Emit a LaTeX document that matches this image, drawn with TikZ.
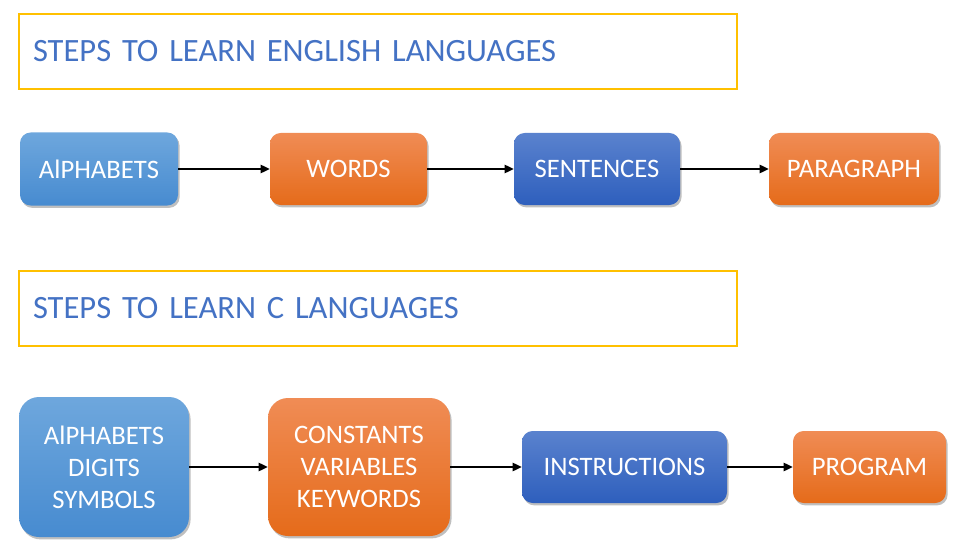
\documentclass[tikz,border=0pt]{standalone}
\usepackage{fontspec}
\setmainfont{Carlito}
\usepackage{xcolor}
\usetikzlibrary{positioning,shadows,arrows.meta}

\definecolor{lblueA}{HTML}{6EA7DD}
\definecolor{lblueB}{HTML}{478BD0}
\definecolor{dblueA}{HTML}{5A82CE}
\definecolor{dblueB}{HTML}{2E5FBD}
\definecolor{orangeA}{HTML}{F08C55}
\definecolor{orangeB}{HTML}{E56B1A}
\definecolor{titleblue}{HTML}{4472C4}
\definecolor{gold}{HTML}{FFC000}

\tikzset{
	stepbox/.style={rounded corners=8pt, text=white, align=center,
		font=\fontsize{20}{24}\selectfont, inner sep=0pt, outer sep=0pt,
		drop shadow={shadow xshift=1.2pt, shadow yshift=-1.8pt, opacity=0.25, fill=black}},
	lightblue/.style={stepbox, top color=lblueA, bottom color=lblueB},
	darkblue/.style={stepbox, top color=dblueA, bottom color=dblueB},
	orangebox/.style={stepbox, top color=orangeA, bottom color=orangeB},
	titlebox/.style={draw=gold, line width=1.3pt, text=titleblue, align=left,
		font=\fontsize{24.4}{28}\selectfont, inner xsep=10.5pt, outer sep=0pt,
		text width=517.5pt, minimum height=56.25pt},
	flow/.style={line width=1.8pt, -{Triangle[length=7pt,width=6pt]}},
}

\begin{document}
\begin{tikzpicture}
	\useasboundingbox (0pt,0pt) rectangle (730.5pt,-417pt);

	% english
	\node[titlebox, anchor=north west] (engtitle) at (14.25pt,-10.5pt) {STEPS TO LEARN ENGLISH LANGUAGES};
	\node[lightblue, anchor=west, minimum width=118.5pt, minimum height=54.75pt] (alpha) at (15pt,-126.75pt) {AlPHABETS};
	\node[orangebox, right=69pt of alpha, minimum width=117.75pt, minimum height=54pt] (words) {WORDS};
	\node[darkblue, right=65.25pt of words, minimum width=124.5pt, minimum height=54pt] (sent) {SENTENCES};
	\node[orangebox, right=66.75pt of sent, minimum width=127.5pt, minimum height=54pt] (para) {PARAGRAPH};

	% c language
	\node[titlebox, anchor=north west] (ctitle) at (14.25pt,-203.25pt) {STEPS TO LEARN C LANGUAGES};
	\node[lightblue, anchor=west, rounded corners=15pt, minimum width=127.5pt, minimum height=105pt] (chars) at (14.25pt,-350.25pt) {AlPHABETS\\DIGITS\\SYMBOLS};
	\node[orangebox, right=59.25pt of chars, rounded corners=15pt, minimum width=136.5pt, minimum height=103.5pt] (tokens) {CONSTANTS\\VARIABLES\\KEYWORDS};
	\node[darkblue, right=54pt of tokens, minimum width=153.75pt, minimum height=54pt] (instr) {INSTRUCTIONS};
	\node[orangebox, right=49.5pt of instr, minimum width=114.75pt, minimum height=54pt] (prog) {PROGRAM};

	\begin{scope}[line width=1.8pt]
		\draw[flow] (alpha) -- (words);
		\draw[flow] (words) -- (sent);
		\draw[flow] (sent) -- (para);
		\draw[flow] (chars) -- (tokens);
		\draw[flow] (tokens) -- (instr);
		\draw[flow] (instr) -- (prog);
	\end{scope}
\end{tikzpicture}
\end{document}
